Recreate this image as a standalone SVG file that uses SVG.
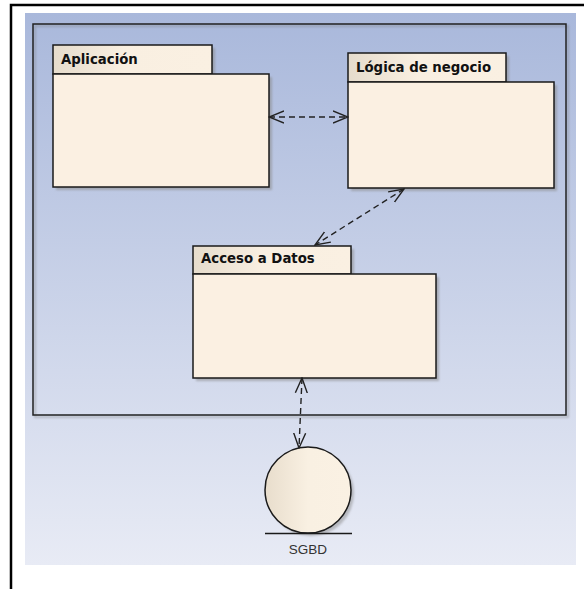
<svg xmlns="http://www.w3.org/2000/svg" width="584" height="589" viewBox="0 0 584 589">
  <defs>
    <linearGradient id="bg" x1="0" y1="0" x2="0" y2="1">
      <stop offset="0" stop-color="#a9b8db"/>
      <stop offset="1" stop-color="#e8ebf5"/>
    </linearGradient>
    <linearGradient id="tab" x1="0" y1="0" x2="1" y2="0">
      <stop offset="0" stop-color="#e6dccc"/>
      <stop offset="0.45" stop-color="#f9efe1"/>
      <stop offset="1" stop-color="#faf0e2"/>
    </linearGradient>
    <linearGradient id="ball" x1="0" y1="0" x2="1" y2="0">
      <stop offset="0" stop-color="#e8ddcc"/>
      <stop offset="0.5" stop-color="#f9f0e2"/>
      <stop offset="1" stop-color="#faf1e3"/>
    </linearGradient>
    <filter id="soft" x="-10%" y="-10%" width="130%" height="130%">
      <feGaussianBlur stdDeviation="1.2"/>
    </filter>
    <marker id="open" viewBox="0 0 16 14" refX="15" refY="7" markerWidth="16" markerHeight="14" markerUnits="userSpaceOnUse" orient="auto-start-reverse">
      <path d="M0,1 L15,7 L0,13" fill="none" stroke="#222" stroke-width="1.4"/>
    </marker>
  </defs>
  <style>
    .pkg { fill: #fbf0e2; stroke: #1a1a1a; stroke-width: 1.5; }
    .tab { fill: url(#tab); stroke: #1a1a1a; stroke-width: 1.5; }
    .shadow { fill: #8a8a8a; opacity: 0.55; filter: url(#soft); }
    .title { font-family: "DejaVu Sans", Verdana, sans-serif; font-weight: bold; font-size: 13.3px; fill: #111; }
    .dep { fill: none; stroke: #222; stroke-width: 1.4; stroke-dasharray: 6 4; marker-start: url(#open); marker-end: url(#open); }
  </style>

  <!-- page frame -->
  <rect x="25" y="13" width="551" height="552" fill="url(#bg)"/>
  <path d="M11,589 V5 H584" fill="none" stroke="#000" stroke-width="2.5"/>

  <!-- system boundary -->
  <rect x="35" y="26" width="533" height="391" fill="none" stroke="#777" stroke-width="1.5" opacity="0.5" filter="url(#soft)"/>
  <rect id="boundary" x="33" y="24" width="533" height="391" fill="none" stroke="#222" stroke-width="1.5"/>

  <g id="aplicacion">
    <rect class="shadow" x="56" y="48" width="159" height="29"/>
    <rect class="shadow" x="56" y="77" width="216" height="113"/>
    <rect class="tab" x="53" y="45" width="159" height="29"/>
    <rect class="pkg" x="53" y="74" width="216" height="113"/>
    <text class="title" x="61" y="64">Aplicación</text>
  </g>

  <g id="logica">
    <rect class="shadow" x="351" y="56" width="158" height="29"/>
    <rect class="shadow" x="351" y="85" width="206" height="106"/>
    <rect class="tab" x="348" y="53" width="158" height="29"/>
    <rect class="pkg" x="348" y="82" width="206" height="106"/>
    <text class="title" x="356" y="72">Lógica de negocio</text>
  </g>

  <g id="acceso">
    <rect class="shadow" x="196" y="249" width="158" height="29"/>
    <rect class="shadow" x="196" y="277" width="243" height="104"/>
    <rect class="tab" x="193" y="246" width="158" height="28"/>
    <rect class="pkg" x="193" y="274" width="243" height="104"/>
    <text class="title" x="201" y="263">Acceso a Datos</text>
  </g>

  <g id="sgbd">
    <circle cx="311" cy="493" r="43" fill="#8a8a8a" opacity="0.5" filter="url(#soft)"/>
    <circle cx="308" cy="490" r="43" fill="url(#ball)" stroke="#1a1a1a" stroke-width="1.5"/>
    <line x1="265" y1="533.5" x2="352" y2="533.5" stroke="#1a1a1a" stroke-width="1.5"/>
    <text x="308" y="554" text-anchor="middle" font-family="Liberation Sans, Arial, sans-serif" font-size="13.5" fill="#333">SGBD</text>
  </g>

  <g id="connectors">
    <line class="dep" x1="269" y1="117" x2="348" y2="117"/>
    <line class="dep" x1="404" y1="189" x2="315" y2="245"/>
    <line class="dep" x1="302" y1="378" x2="299" y2="448"/>
  </g>
</svg>
